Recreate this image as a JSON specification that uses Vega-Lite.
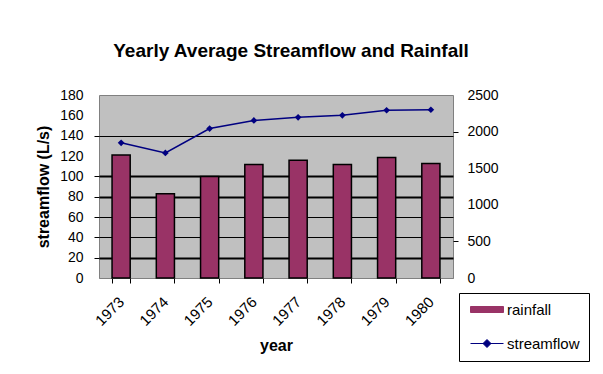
{
  "$schema": "https://vega.github.io/schema/vega-lite/v6.json",
  "width": 354,
  "height": 183,
  "autosize": {"type": "none"},
  "padding": {"left": 99, "top": 95, "right": 150, "bottom": 96},
  "background": "white",
  "config": {
    "font": "Liberation Sans",
    "view": {"fill": "#C0C0C0", "stroke": "#808080", "strokeWidth": 1},
    "axis": {"labelFont": "Liberation Sans", "titleFont": "Liberation Sans", "labelColor": "#000", "titleColor": "#000"}
  },
  "title": {
    "text": "Yearly Average Streamflow and Rainfall",
    "fontSize": 19,
    "fontWeight": "bold",
    "font": "Liberation Sans",
    "anchor": "middle",
    "frame": "group",
    "dx": 15,
    "offset": 12,
    "baseline": "alphabetic",
    "color": "#000"
  },
  "data": {
    "values": [
      {"year": "1973", "streamflow": 133, "rainfall": 1680},
      {"year": "1974", "streamflow": 123, "rainfall": 1150},
      {"year": "1975", "streamflow": 147, "rainfall": 1385},
      {"year": "1976", "streamflow": 155, "rainfall": 1550},
      {"year": "1977", "streamflow": 158, "rainfall": 1610},
      {"year": "1978", "streamflow": 160, "rainfall": 1550},
      {"year": "1979", "streamflow": 165, "rainfall": 1645},
      {"year": "1980", "streamflow": 165.5, "rainfall": 1565}
    ]
  },
  "layer": [
    {
      "mark": {"type": "bar", "stroke": "#000", "strokeWidth": 1.5},
      "encoding": {
        "x": {
          "field": "year",
          "type": "ordinal",
          "scale": {"paddingInner": 0.59, "paddingOuter": 0.295},
          "axis": {
            "title": "year",
            "titleFontSize": 16,
            "titleFontWeight": "bold",
            "titlePadding": 9,
            "labelAngle": -45,
            "labelAlign": "right",
            "labelBaseline": "middle",
            "labelFontSize": 15,
            "labelPadding": 16,
            "tickBand": "extent",
            "tickSize": 5,
            "tickColor": "#000",
            "domainColor": "#808080"
          }
        },
        "y": {
          "field": "rainfall",
          "type": "quantitative",
          "scale": {"domain": [0, 2500], "nice": false},
          "axis": {
            "orient": "right",
            "values": [0, 500, 1000, 1500, 2000, 2500],
            "format": "d",
            "grid": false,
            "title": null,
            "domain": false,
            "tickSize": 5,
            "labelPadding": 9,
            "labelFontSize": 14,
            "tickColor": "#000",
            "tickOpacity": {"condition": {"test": "datum.value == 2000 || datum.value == 500", "value": 1}, "value": 0}
          }
        },
        "color": {
          "datum": "rainfall",
          "type": "nominal",
          "scale": {"domain": ["rainfall", "streamflow"], "range": ["#993366", "#000080"]},
          "legend": {
            "orient": "none",
            "legendX": 360,
            "legendY": 198,
            "title": null,
            "padding": 9,
            "strokeColor": "#000",
            "fillColor": "white",
            "symbolSize": 100,
            "rowPadding": 18,
            "labelOffset": 24,
            "labelFontSize": 15,
            "labelFont": "Liberation Sans",
            "labelColor": "#000",
            "labelLimit": 200,
            "encoding": {
              "symbols": {
                "shape": {"value": {"expr": "datum.value === 'rainfall' ? 'M-1,-0.6H5.6V0.6H-1Z' : 'M-1,0H5.6M2.3,-0.8L3.1,0L2.3,0.8L1.5,0Z'"}},
                "fill": {"value": {"expr": "datum.value === 'rainfall' ? '#993366' : '#000080'"}},
                "stroke": {"value": {"expr": "datum.value === 'rainfall' ? '#000' : '#000080'"}},
                "strokeWidth": {"value": 1},
                "opacity": {"value": 1},
                "fillOpacity": {"value": 1}
              }
            }
          }
        }
      }
    },
    {
      "mark": {"type": "line", "strokeWidth": 1.5, "point": {"filled": true, "shape": "diamond", "size": 45}},
      "encoding": {
        "x": {"field": "year", "type": "ordinal"},
        "y": {
          "field": "streamflow",
          "type": "quantitative",
          "scale": {"domain": [0, 180], "nice": false},
          "axis": {
            "orient": "left",
            "values": [0, 20, 40, 60, 80, 100, 120, 140, 160, 180],
            "title": "streamflow (L/s)",
            "titleFontSize": 16,
            "titleFontWeight": "bold",
            "titlePadding": 8,
            "domain": false,
            "tickSize": 5,
            "labelPadding": 11,
            "labelFontSize": 14,
            "tickColor": "#000",
            "tickOpacity": {"condition": {"test": "indexof([20,40,60,80,100,140], datum.value) >= 0", "value": 1}, "value": 0},
            "grid": true,
            "gridColor": "#000",
            "gridOpacity": {"condition": {"test": "indexof([20,40,60,80,100,140], datum.value) >= 0", "value": 1}, "value": 0},
            "gridWidth": {"condition": {"test": "indexof([20,80,100], datum.value) >= 0", "value": 2}, "value": 1}
          }
        },
        "color": {"datum": "streamflow", "type": "nominal"}
      }
    }
  ],
  "resolve": {"scale": {"y": "independent"}}
}
